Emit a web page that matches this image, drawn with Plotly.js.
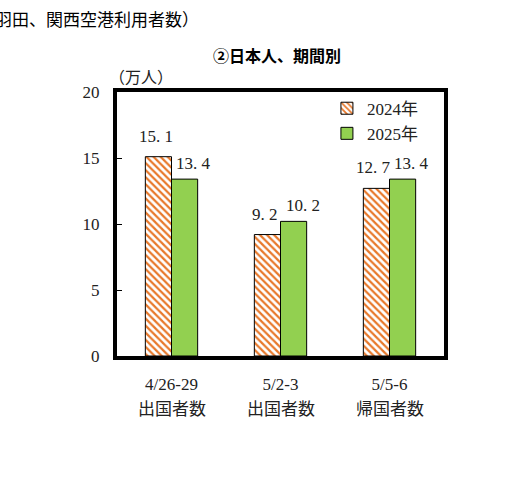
<!DOCTYPE html>
<html><head><meta charset="utf-8">
<script src="https://cdn.plot.ly/plotly-3.0.1.min.js"></script>
<style>html,body{margin:0;padding:0;background:#fff;}</style>
</head><body>
<div id="chart" style="width:521px;height:490px;"></div>
<script>
const categoryDates = ["4/26-29", "5/2-3", "5/5-6"];
const categoryKinds = ["出国者数", "出国者数", "帰国者数"];
const series2024 = [15.1, 9.2, 12.7];
const series2025 = [13.4, 10.2, 13.4];
const seriesYears = ["2024", "2025"];
const yTicks = [0, 5, 10, 15, 20];

const serif = "Liberation Serif, serif";
const cjk = "Noto Sans CJK JP, sans-serif";
const L = s => '<span style="font-family:\'Liberation Serif\', serif">' + s + '</span>';
const J = s => '<span style="font-family:\'Noto Sans CJK JP\', sans-serif">' + s + '</span>';
const fmt = v => v.toFixed(1).replace('.', '. ');

const traces = [
  {
    type: 'bar', name: L(seriesYears[0]) + J('年'), x: categoryDates, y: series2024,
    marker: {color: '#ffffff', line: {color: '#000', width: 1},
      pattern: {shape: '\\', fgcolor: '#E8782A', bgcolor: '#ffffff', size: 5, solidity: 0.45}}
  },
  {
    type: 'bar', name: L(seriesYears[1]) + J('年'), x: categoryDates, y: series2025,
    marker: {color: '#92D050', line: {color: '#000', width: 1}}
  }
];

const annotations = [
  {text: '②日本人、期間別', xref: 'paper', yref: 'paper', x: 0.49, y: 1.0, yshift: 51,
    showarrow: false, font: {family: cjk, size: 16, color: '#000', weight: 'bold'}},
  {text: '（万人）', xref: 'paper', yref: 'paper', x: -0.03, y: 1.0, xanchor: 'left', yshift: 30,
    showarrow: false, font: {family: cjk, size: 16, color: '#222'}},
  {text: '羽田、関西空港利用者数）', xref: 'paper', yref: 'paper', x: -0.38, xanchor: 'left',
    y: 1.0, yshift: 88, showarrow: false, font: {family: cjk, size: 17, color: '#000'}}
];
categoryKinds.forEach((k, i) => annotations.push({
  text: k, xref: 'x', yref: 'paper', x: categoryDates[i], y: 0, yanchor: 'middle', yshift: -51,
  showarrow: false, font: {family: cjk, size: 17, color: '#222'}
}));
series2024.forEach((v, i) => annotations.push({
  text: fmt(v), xref: 'x', yref: 'y', x: categoryDates[i], y: v, yanchor: 'bottom',
  xshift: -16, yshift: 9, showarrow: false, font: {family: serif, size: 17, color: '#222'}
}));
series2025.forEach((v, i) => annotations.push({
  text: fmt(v), xref: 'x', yref: 'y', x: categoryDates[i], y: v, yanchor: 'bottom',
  xshift: 22, yshift: 4, showarrow: false, font: {family: serif, size: 17, color: '#222'}
}));

const layout = {
  width: 521, height: 490,
  margin: {l: 117, r: 77, t: 92, b: 134},
  paper_bgcolor: '#fff', plot_bgcolor: '#fff',
  barmode: 'group', bargap: 0.52, bargroupgap: 0,
  showlegend: true,
  legend: {x: 0.642, y: 1.005, xanchor: 'left', yanchor: 'top', bgcolor: 'rgba(0,0,0,0)',
    font: {family: serif, size: 17, color: '#222'}, itemwidth: 30, tracegroupgap: 0},
  font: {family: serif, color: '#222'},
  xaxis: {
    showline: true, linecolor: '#000', linewidth: 4, mirror: true,
    ticks: '', tickfont: {family: serif, size: 17, color: '#222'}, ticklabelstandoff: 10,
    fixedrange: true
  },
  yaxis: {
    range: [0, 20], tickvals: yTicks, ticktext: yTicks.map(String),
    showline: true, linecolor: '#000', linewidth: 4, mirror: true,
    ticks: 'inside', ticklen: 5, tickcolor: '#000', showgrid: false, zeroline: false,
    tickfont: {family: serif, size: 17, color: '#222'}, ticklabelstandoff: 10
  },
  annotations: annotations
};

Plotly.newPlot('chart', traces, layout, {displayModeBar: false, staticPlot: true});
</script>
</body></html>
